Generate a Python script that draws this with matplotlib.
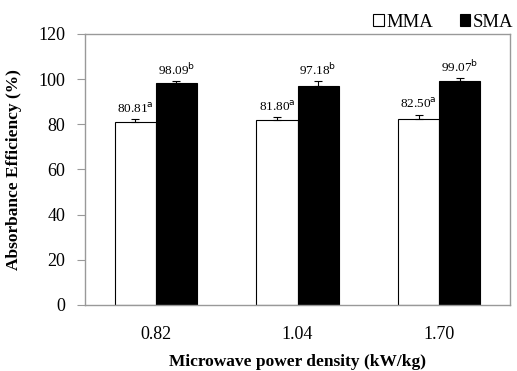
import matplotlib
matplotlib.use("Agg")
import matplotlib.pyplot as plt
import numpy as np
from matplotlib.patches import Patch

categories = ["0.82", "1.04", "1.70"]
mma = [80.81, 81.80, 82.50]
sma = [98.09, 97.18, 99.07]
mma_err = [1.5, 1.3, 1.8]
sma_err = [1.0, 1.8, 1.3]
mma_letters = ["a", "a", "a"]
sma_letters = ["b", "b", "b"]

plt.rcParams['font.family'] = ['Liberation Serif', 'DejaVu Serif']

fig = plt.figure(figsize=(5.17, 3.71), dpi=100)
ax = fig.add_axes([0.1644, 0.178, 0.8221, 0.7304])

x = np.arange(len(categories))
w = 0.29
ax.bar(x - w/2, mma, w, color="white", edgecolor="black", linewidth=0.8,
       yerr=[np.zeros(3), mma_err], error_kw=dict(ecolor="black", elinewidth=0.8, capsize=3, capthick=0.8))
ax.bar(x + w/2, sma, w, color="black", edgecolor="black", linewidth=0.8,
       yerr=[np.zeros(3), sma_err], error_kw=dict(ecolor="black", elinewidth=0.8, capsize=3, capthick=0.8))

for i in range(len(categories)):
    ax.text(x[i] - w/2, mma[i] + mma_err[i] + 1.5, f"{mma[i]:.2f}$^{{\\mathrm{{{mma_letters[i]}}}}}$",
            ha="center", va="bottom", fontsize=9.5)
    ax.text(x[i] + w/2, sma[i] + sma_err[i] + 1.5, f"{sma[i]:.2f}$^{{\\mathrm{{{sma_letters[i]}}}}}$",
            ha="center", va="bottom", fontsize=9.5)

ax.set_xlim(-0.5, 2.5)
ax.set_ylim(0, 120)
ax.set_yticks(range(0, 121, 20))
ax.set_xticks(x)
ax.set_xticklabels(categories)
ax.tick_params(axis="y", length=6, color="#999999", labelsize=13, pad=8)
ax.tick_params(axis="x", length=0, labelsize=13, pad=15)
for s in ax.spines.values():
    s.set_color("#999999")
    s.set_linewidth(1.0)

ax.set_ylabel("Absorbance Efficiency (%)", fontsize=12.5, fontweight="bold", labelpad=12)
ax.set_xlabel("Microwave power density (kW/kg)", fontsize=12.5, fontweight="bold", labelpad=8)

handles = [Patch(facecolor="white", edgecolor="black", linewidth=0.8),
           Patch(facecolor="black", edgecolor="black", linewidth=0.8)]
ax.legend(handles, ["MMA", "SMA"], ncol=2, loc="lower right", bbox_to_anchor=(1.012, 1.005),
          frameon=False, fontsize=13.5, handlelength=0.55, handleheight=0.55,
          handletextpad=0.15, columnspacing=1.4, borderaxespad=0.0, borderpad=0.1)

fig.savefig("out.png", dpi=100)
